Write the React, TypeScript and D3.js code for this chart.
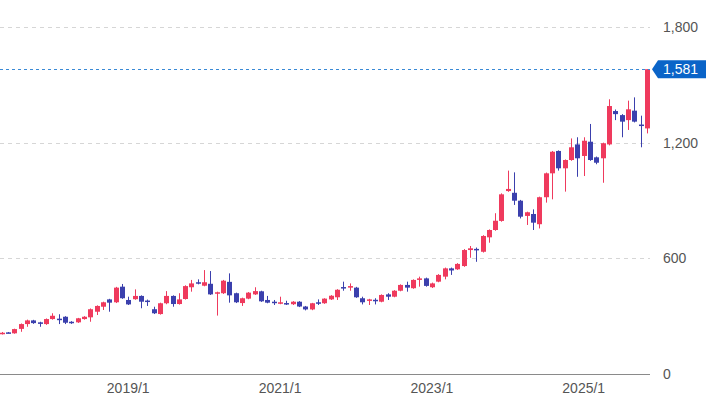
import React from "react";
import * as d3 from "d3";

// Monthly candles, 2017/5 .. 2025/11
const startMonth = new Date(2017, 4, 1);
const endMonth = new Date(2025, 11, 1);
const months = d3.timeMonth.range(startMonth, endMonth).map(
  (d) => `${d.getFullYear()}/${d.getMonth() + 1}`
);

const opens = [
  208, 216, 211, 234, 259, 278, 268, 259, 285, 287, 297, 271, 268, 285, 294, 323, 349, 387, 372, 453,
  384, 388, 405, 381, 336, 311, 367, 405, 363, 389, 450, 476, 458, 468, 417, 419, 478, 419, 368, 391,
  413, 429, 384, 375, 365, 368, 362, 375, 350, 335, 372, 367, 387, 398, 451, 448, 448, 393, 383, 385,
  375, 413, 401, 432, 462, 445, 488, 496, 450, 479, 505, 548, 543, 560, 643, 649, 634, 709, 747, 794,
  949, 940, 899, 820, 830, 777, 917, 1041, 1157, 1067, 1110, 1191, 1131, 1205, 1124, 1119, 1191, 1364, 1343, 1317,
  1366, 1294, 1274,
];
const highs = [
  218, 218, 235, 262, 282, 281, 271, 288, 315, 310, 300, 274, 291, 300, 340, 356, 375, 390, 452, 467,
  401, 439, 408, 386, 349, 370, 430, 408, 419, 460, 488, 491, 539, 534, 427, 488, 522, 422, 396, 425,
  450, 432, 405, 384, 401, 380, 378, 378, 353, 369, 387, 393, 409, 440, 479, 470, 452, 401, 390, 393,
  413, 419, 435, 465, 479, 491, 505, 500, 474, 518, 552, 552, 575, 648, 664, 656, 720, 750, 834, 937,
  1055, 1046, 903, 842, 854, 920, 1045, 1157, 1160, 1113, 1222, 1228, 1228, 1297, 1128, 1200, 1425, 1372, 1348, 1418,
  1435, 1340, 1581,
];
const lows = [
  205, 212, 209, 219, 245, 260, 245, 255, 282, 259, 259, 260, 265, 282, 271, 306, 332, 323, 368, 390,
  358, 385, 341, 353, 311, 308, 362, 349, 360, 386, 427, 465, 455, 410, 303, 415, 370, 368, 353, 388,
  410, 374, 367, 358, 362, 358, 358, 347, 330, 331, 358, 364, 384, 384, 432, 432, 395, 361, 358, 361,
  372, 384, 398, 429, 427, 442, 453, 453, 446, 476, 491, 514, 540, 556, 603, 582, 630, 681, 743, 790,
  945, 877, 807, 773, 747, 755, 889, 906, 1055, 946, 1106, 1023, 1027, 1106, 1088, 992, 1186, 1317, 1228, 1266,
  1305, 1176, 1248,
];
const closes = [
  214, 214, 233, 259, 278, 264, 260, 285, 302, 284, 266, 264, 289, 297, 336, 353, 372, 370, 448, 393,
  361, 405, 375, 379, 315, 367, 405, 363, 387, 456, 470, 474, 476, 413, 424, 484, 408, 372, 393, 422,
  430, 377, 370, 368, 372, 366, 375, 350, 335, 367, 370, 391, 406, 437, 448, 456, 398, 372, 387, 383,
  410, 401, 432, 462, 448, 488, 496, 457, 470, 514, 548, 537, 571, 643, 652, 645, 716, 747, 795, 932,
  960, 899, 816, 839, 785, 917, 1041, 1153, 1067, 1110, 1176, 1119, 1210, 1110, 1096, 1197, 1390, 1348, 1309, 1373,
  1309, 1290, 1581,
];

const yTicks = [0, 600, 1200, 1800];
const xTickLabels = ["2019/1", "2021/1", "2023/1", "2025/1"];
const lastPrice = 1581;

const W = 710;
const H = 404;
const UP = "#ef3a5d";
const DOWN = "#3b40ad";

export default function App() {
  const x = d3.scaleLinear().domain([0, months.length - 1]).range([1.7, 647]);
  const y = d3.scaleLinear().domain([0, 1800]).range([374, 27]);
  const fmt = d3.format(",");
  const plotRight = 650;
  const bodyW = 5;
  const font = "'Liberation Sans', Arial, sans-serif";

  const priceY = y(lastPrice);

  return (
    <svg
      width={W}
      height={H}
      style={{ position: "absolute", left: 0, top: 0, background: "#fff" }}
      fontFamily={font}
    >
      {/* grid lines */}
      {yTicks
        .filter((t) => t > 0)
        .map((t) => (
          <line
            key={t}
            x1={0}
            x2={plotRight}
            y1={Math.round(y(t)) + 0.5}
            y2={Math.round(y(t)) + 0.5}
            stroke="#d6d6d6"
            strokeDasharray="4 4"
          />
        ))}
      {/* x axis line */}
      <line x1={0} x2={plotRight} y1={y(0) + 0.5} y2={y(0) + 0.5} stroke="#8a8a8a" strokeWidth={1} />

      {/* y tick labels */}
      {yTicks.map((t) => (
        <text key={t} x={663} y={y(t)} dy="0.36em" fontSize={14} fill="#555">
          {fmt(t)}
        </text>
      ))}

      {/* x tick labels */}
      {xTickLabels.map((lab) => {
        const i = months.indexOf(lab);
        return (
          <text key={lab} x={x(i)} y={393} textAnchor="middle" fontSize={14} fill="#555">
            {lab}
          </text>
        );
      })}

      {/* candles */}
      {months.map((m, i) => {
        const o = opens[i];
        const c = closes[i];
        const hi = highs[i];
        const lo = lows[i];
        const color = c >= o ? UP : DOWN;
        const cx = Math.round(x(i));
        const top = y(Math.max(o, c));
        const bot = y(Math.min(o, c));
        return (
          <g key={m}>
            <line x1={cx + 0.5} x2={cx + 0.5} y1={y(hi)} y2={y(lo)} stroke={color} strokeWidth={1} />
            <rect
              x={cx + 0.5 - bodyW / 2}
              y={top}
              width={bodyW}
              height={Math.max(1.5, bot - top)}
              fill={color}
            />
          </g>
        );
      })}

      {/* last price line */}
      <line
        x1={0}
        x2={plotRight}
        y1={Math.round(priceY) + 0.5}
        y2={Math.round(priceY) + 0.5}
        stroke="#3a8ad6"
        strokeDasharray="3 3"
      />
      <path
        d={`M652,${priceY} L658,${priceY - 9} L706,${priceY - 9} L706,${priceY + 9} L658,${priceY + 9} Z`}
        fill="#0a64c8"
      />
      <text x={663} y={priceY} dy="0.36em" fontSize={14} fill="#fff">
        {fmt(lastPrice)}
      </text>
    </svg>
  );
}
